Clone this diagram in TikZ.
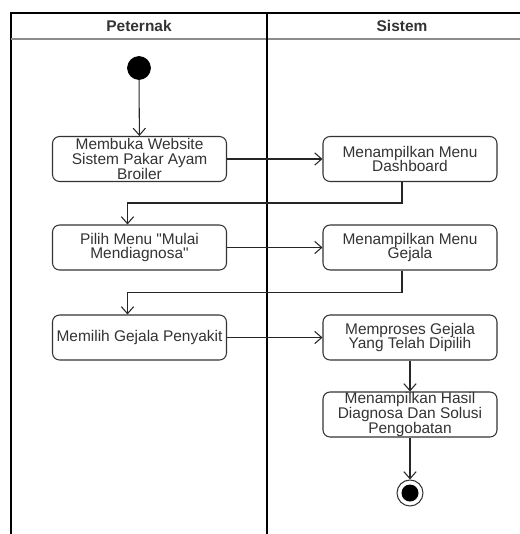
\documentclass[tikz,border=0pt]{standalone}
\usepackage{fontspec}
\setmainfont{Liberation Sans}[Ligatures=TeXOff]
\usetikzlibrary{positioning,arrows.meta,calc,shapes}
\tikzset{
    x=0.02cm,
    y=-0.02cm,
    lane/.style = {
        draw=black,
        line width=0.8pt
    },
    laneline/.style = {
        draw=black!45,
        line width=0.8pt
    },
    lanetitle/.style = {
        font=\fontsize{8.8}{8.5}\selectfont\bfseries,
        text=black!80
    },
    action/.style = {
        draw=black!80,
        shape=rectangle,
        rounded corners=4pt,
        minimum height=0.9cm,
        minimum width=3.48cm,
        inner sep=0pt,
        line width=0.6pt,
        align=center,
        text=black!80,
        font=\fontsize{8.8}{8.5}\selectfont
    },
    initial/.style = {
        draw,
        shape=circle,
        fill=black,
        minimum size=0.46cm,
        inner sep=0pt
    },
    final/.style = {
        draw=black!80,
        shape=circle,
        minimum size=0.52cm,
        inner sep=0pt,
        line width=0.6pt,
        path picture={\fill[black] (path picture bounding box.center) circle (0.17cm);}
    },
    flow/.style = {
        draw=black!85,
        line width=0.6pt
    },
    >={Straight Barb[length=4pt,width=7pt]},
}
\begin{document}
\begin{tikzpicture}
    \useasboundingbox (0,0) rectangle (520,534);
    \begin{scope}
        \clip (0,0) rectangle (520,534);
        % swimlanes
        \path[lane] (11,534) -- (11,13) -- (530,13);
        \path[laneline] (11,39) -- (530,39);
        \path[lane] (267,13) -- (267,534);
    \end{scope}
    \node[lanetitle] (peternak) at (139,26) {Peternak};
    \node[lanetitle] (sistem) at (402,26) {Sistem};

    \node[initial] (start) at (139,68) {};
    \node[action] (buka) at (139.5,159) {Membuka Website\\Sistem Pakar Ayam\\Broiler};
    \node[action] (dashboard) at (410,159) {Menampilkan Menu\\Dashboard};
    \node[action] (pilih) at (139.5,247.5) {Pilih Menu "Mulai\\Mendiagnosa"};
    \node[action] (menugejala) at (410,247.5) {Menampilkan Menu\\Gejala};
    \node[action] (memilih) at (139.5,337.5) {Memilih Gejala Penyakit};
    \node[action] (proses) at (410,337.5) {Memproses Gejala\\Yang Telah Dipilih};
    \node[action] (hasil) at (410,414.5) {Menampilkan Hasil\\Diagnosa Dan Solusi\\Pengobatan};
    \node[final] (end) at (410,493) {};

    \path[flow, ->] (start) -- (buka);
    \path[flow, ->] (buka) -- (dashboard);
    \path[flow, ->] ($(dashboard.south)+(-8,0)$) -- ++(0,21) -| ($(pilih.north)+(-12,0)$);
    \path[flow, ->] (pilih) -- (menugejala);
    \path[flow, ->] ($(menugejala.south)+(-8,0)$) -- ++(0,22) -| ($(memilih.north)+(-12,0)$);
    \path[flow, ->] (memilih) -- (proses);
    \path[flow, ->] (proses) -- (hasil);
    \path[flow, ->] (hasil) -- (end);
\end{tikzpicture}
\end{document}
